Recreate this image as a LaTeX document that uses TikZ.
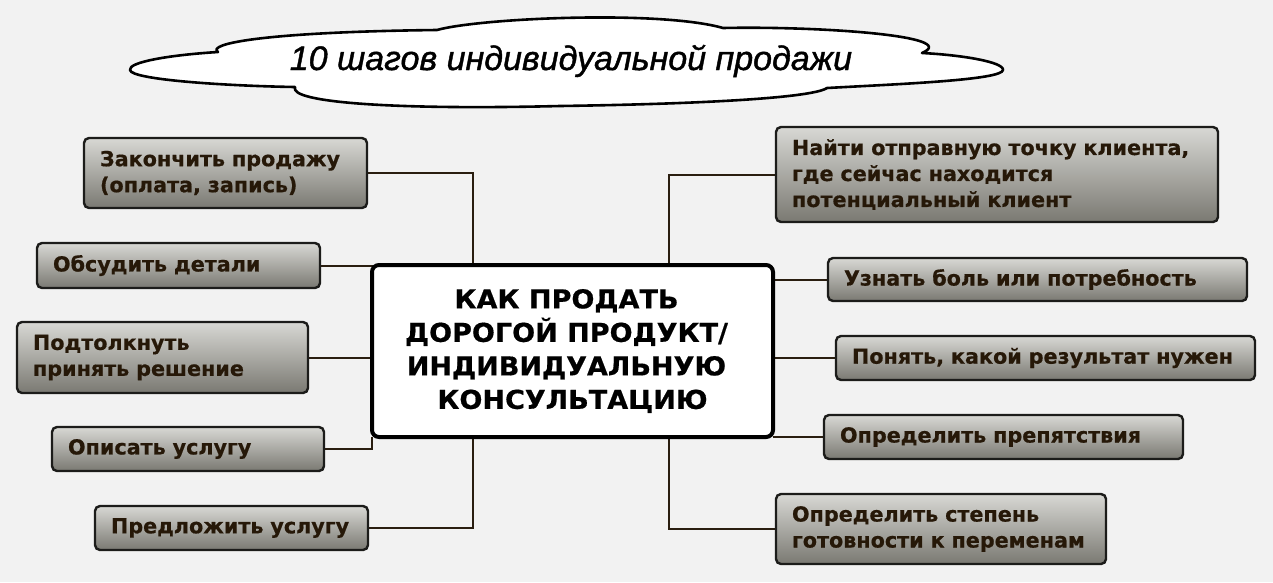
\documentclass[tikz,border=0pt]{standalone}
\usepackage{fontspec}
\setmainfont{DejaVu Sans}
\newfontface\cloudfont{Liberation Sans Italic}[FakeBold=1.2]
\newfontface\heavyfont{DejaVu Sans Bold}[FakeBold=0.6]
\newfontface\hubfont{DejaVu Sans Bold}[FakeBold=0.6,FakeStretch=1.04]
\usetikzlibrary{shadings,backgrounds}
\definecolor{bg}{RGB}{242,242,242}
\definecolor{boxtop}{RGB}{216,216,212}
\definecolor{boxbot}{RGB}{122,121,114}
\definecolor{boxline}{RGB}{28,28,26}
\definecolor{boxtext}{RGB}{38,24,8}
\definecolor{conn}{RGB}{42,30,16}
\tikzset{
  stepbox/.style={draw=boxline, line width=2.4pt, rounded corners=5pt,
    top color=boxtop, bottom color=boxbot, anchor=north west,
    inner xsep=16pt, inner ysep=0pt, outer sep=0pt, align=left,
    text=boxtext, font=\heavyfont\fontsize{20.7}{26}\selectfont},
  hubbox/.style={draw=black, line width=4pt, rounded corners=7pt, fill=white,
    anchor=north west, inner sep=0pt, outer sep=0pt, align=center,
    text=black, font=\hubfont\fontsize{26}{33.5}\selectfont},
  link/.style={draw=conn, line width=2pt}
}
\begin{document}
\begin{tikzpicture}[x=1pt,y=-1pt]
\useasboundingbox (0,0) rectangle (1273,582);
\begin{scope}[on background layer]
\fill[bg] (0,0) rectangle (1273,582);
\end{scope}
% cloud
\draw[line width=2.6pt, fill=white, line join=round]
  (130,70) .. controls (128,62) and (170,55) .. (218,52)
  .. controls (206,44) and (262,32) .. (437,30)
  .. controls (480,18) and (660,10) .. (723,28)
  .. controls (820,26) and (962,36) .. (922,53)
  .. controls (962,55) and (1004,62) .. (1003,70)
  .. controls (1002,80) and (900,84) .. (827,88)
  .. controls (812,98) and (700,104) .. (560,106)
  .. controls (400,110) and (288,103) .. (295,87)
  .. controls (230,86) and (131,80) .. (130,70) -- cycle;
\node[font=\cloudfont\fontsize{34}{38}\selectfont, inner sep=0pt, anchor=base] (title) at (571,70) {10 шагов индивидуальной продажи};
% hub
\node[hubbox, minimum width=401pt, minimum height=172pt] (c) at (372,265)
  {КАК ПРОДАТЬ\kern12pt\\ДОРОГОЙ ПРОДУКТ/\kern12pt\\ИНДИВИДУАЛЬНУЮ\kern12pt\\КОНСУЛЬТАЦИЮ};
% left boxes
\node[stepbox, minimum width=283pt, minimum height=70pt, text width=251pt] (b1) at (84,138) {Закончить продажу\\(оплата, запись)};
\node[stepbox, minimum width=283pt, minimum height=45pt, text width=251pt] (b2) at (37,243) {Обсудить детали};
\node[stepbox, minimum width=291pt, minimum height=71pt, text width=259pt] (b3) at (17,322) {Подтолкнуть\\принять решение};
\node[stepbox, minimum width=272pt, minimum height=44pt, text width=240pt] (b4) at (52,427) {Описать услугу};
\node[stepbox, minimum width=273pt, minimum height=44pt, text width=241pt] (b5) at (95,506) {Предложить услугу};
% right boxes
\node[stepbox, minimum width=442pt, minimum height=95pt, text width=410pt] (b6) at (776,127) {Найти отправную точку клиента,\\где сейчас находится\\потенциальный клиент};
\node[stepbox, minimum width=419pt, minimum height=43pt, text width=387pt] (b7) at (828,258) {Узнать боль или потребность};
\node[stepbox, minimum width=419pt, minimum height=44pt, text width=387pt] (b8) at (836,336) {Понять, какой результат нужен};
\node[stepbox, minimum width=359pt, minimum height=44pt, text width=327pt] (b9) at (824,415) {Определить препятствия};
\node[stepbox, minimum width=330pt, minimum height=70pt, text width=298pt] (b10) at (776,494) {Определить степень\\готовности к переменам};
% junctions on hub
\coordinate (ctopL) at (473,265);
\coordinate (ctopR) at (669,265);
\coordinate (cbotL) at (473,437);
\coordinate (cbotR) at (669,437);
\begin{scope}[on background layer]
\draw[link] (b1.east) -| (ctopL);
\draw[link] (b2.east) -| (c.north west);
\draw[link] (b3.east) -- (b3.east -| c.west);
\draw[link] (b4.east) -| (c.south west);
\draw[link] (b5.east) -| (cbotL);
\draw[link] (b6.west) -| (ctopR);
\draw[link] (b7.west) -- (b7.west -| c.east);
\draw[link] (b8.west) -- (b8.west -| c.east);
\draw[link] (b9.west) -| (c.south east);
\draw[link] (b10.west) -| (cbotR);
\end{scope}
\end{tikzpicture}
\end{document}
